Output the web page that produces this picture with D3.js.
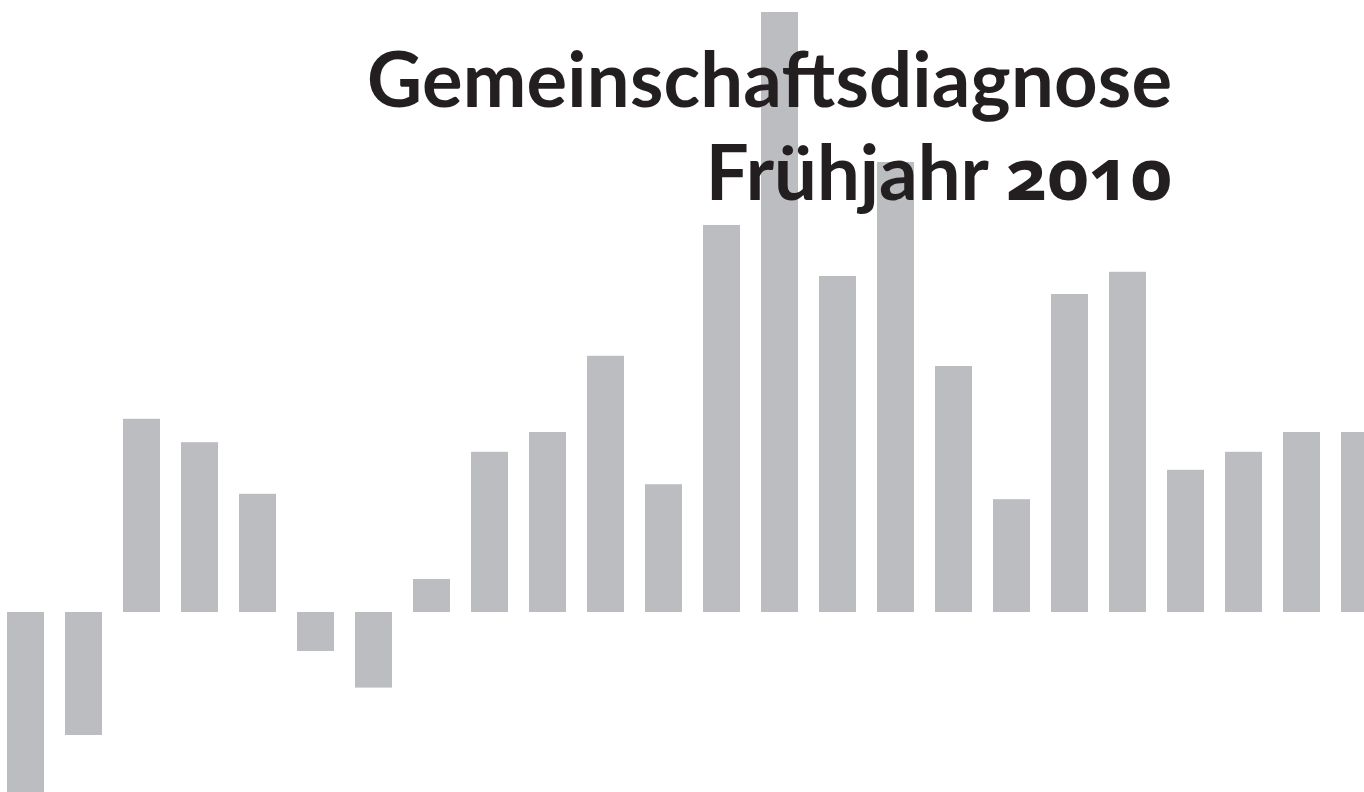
<!DOCTYPE html>
<meta charset="utf-8" />
<style>
  body { margin: 0; background: #fff; overflow: hidden; }
  .bar { fill: #bcbdc1; }
  .title {
    font-family: Lato, "Open Sans", sans-serif;
    font-weight: bold;
    font-size: 76px;
    fill: #231f20;
  }
  .year {
    font-family: "Open Sans", Lato, sans-serif;
    font-size: 72px;
    font-variant-numeric: oldstyle-nums;
    font-feature-settings: "onum" 1;
  }
</style>
<svg id="chart"></svg>
<script src="https://cdn.jsdelivr.net/npm/d3@7/dist/d3.min.js"></script>
<script>
  // bar values (one unit ~ 60px)
  var periods = d3.range(1, 25);
  var values = [-3.3, -2.05, 3.22, 2.83, 1.97, -0.65, -1.26, 0.55,
    2.67, 3.0, 4.27, 2.13, 6.45, 10.0, 5.6, 7.5,
    4.1, 1.88, 5.3, 5.67, 2.37, 2.67, 3.0, 3.0];
  var titleLine1 = "Gemeinschaftsdiagnose";
  var titleWord = "Frühjahr";
  var titleYear = "2010";

  var width = 1364,
    height = 792;

  var svg = d3.select("#chart")
    .attr("width", width)
    .attr("height", height);

  var x = d3.scaleBand()
    .domain(periods)
    .range([7, 7 + 58 * (periods.length - 0.362)])
    .paddingInner(0.362)
    .paddingOuter(0);

  var y = d3.scaleLinear()
    .domain([0, 10])
    .range([612, 12]);

  svg.append("g")
    .selectAll("rect")
    .data(values)
    .enter()
    .append("rect")
    .attr("class", "bar")
    .attr("x", function(d, i) { return x(periods[i]); })
    .attr("width", x.bandwidth())
    .attr("y", function(d) { return y(Math.max(0, d)); })
    .attr("height", function(d) { return Math.abs(y(d) - y(0)); });

  var t = svg.append("g");

  t.append("text")
    .attr("class", "title")
    .attr("x", 1172)
    .attr("y", 107)
    .attr("text-anchor", "end")
    .attr("textLength", 805)
    .attr("lengthAdjust", "spacing")
    .text(titleLine1);

  var line2 = t.append("text")
    .attr("class", "title")
    .attr("x", 1172)
    .attr("y", 200)
    .attr("text-anchor", "end");

  line2.append("tspan").text(titleWord + " ");
  line2.append("tspan").attr("class", "year").text(titleYear);
</script>
